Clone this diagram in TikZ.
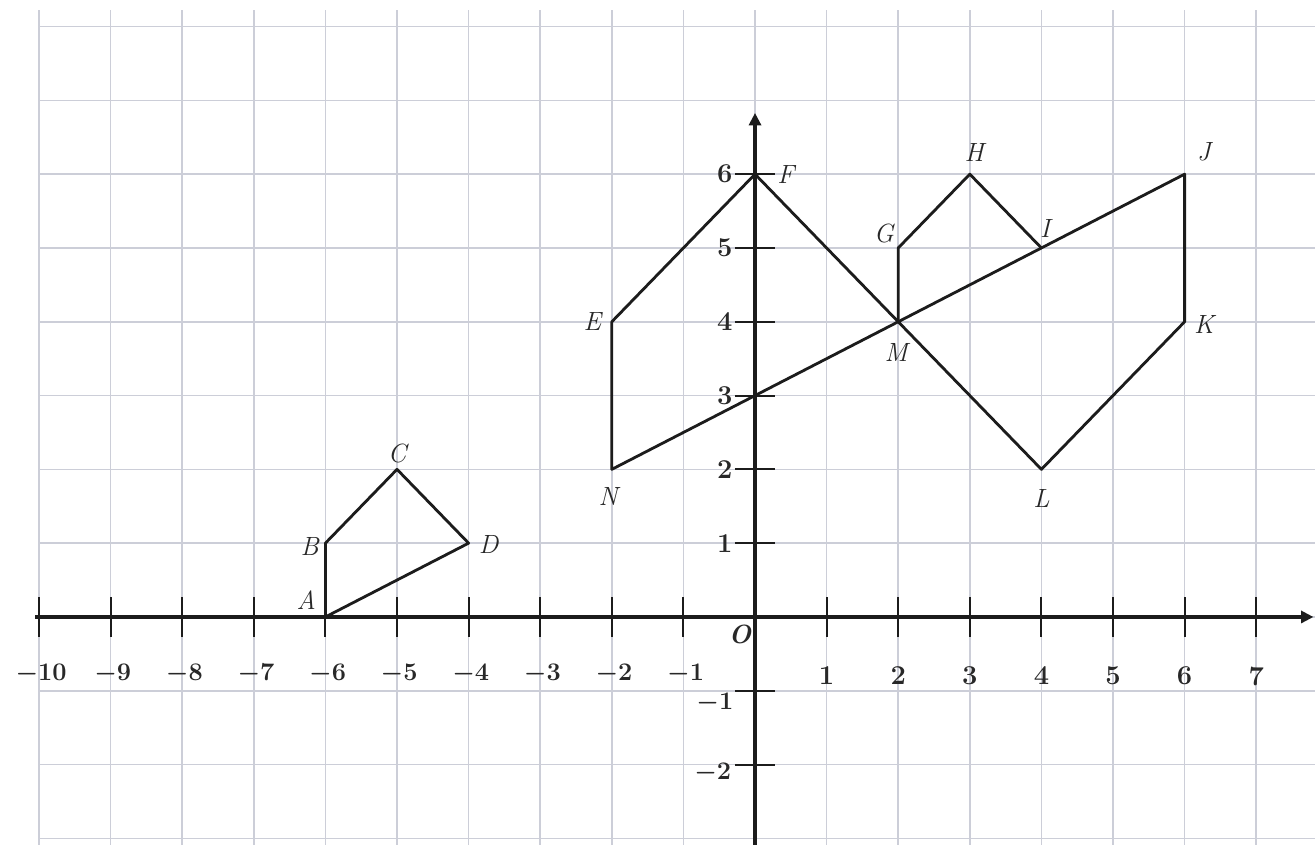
\documentclass[tikz,border=0pt]{standalone}
\usetikzlibrary{arrows.meta}
\definecolor{gridc}{RGB}{204,206,216}
\definecolor{inkc}{RGB}{28,28,28}
\definecolor{labc}{RGB}{40,40,40}
\begin{document}
\begin{tikzpicture}[x=1.432cm,y=1.476cm,
  gridline/.style={draw=gridc,line width=0.9pt},
  axisline/.style={draw=inkc,line width=1.8pt,-{Triangle[length=0.25cm,width=0.24cm]}},
  tickline/.style={draw=inkc,line width=1.2pt},
  poly/.style={draw=inkc,line width=1.6pt,line join=round},
  ptlab/.style={text=labc,inner sep=0pt,font=\fontsize{15}{17}\selectfont\itshape},
  numlab/.style={text=labc,inner sep=0pt,font=\fontsize{15.5}{17}\selectfont\bfseries\boldmath}]
\useasboundingbox[fill=white] (-10.545,-3.089) rectangle (7.821,8.360);
% grid
\foreach \i in {-10,...,7} \draw[gridline] (\i,-3.1) -- (\i,8.22);
\foreach \j in {-3,...,8} \draw[gridline] (-10,\j) -- (7.83,\j);
% axes
\coordinate (xs) at (-10.05,0);
\coordinate (xe) at (7.80,0);
\coordinate (ys) at (0,-3.1);
\coordinate (ye) at (0,6.83);
\draw[axisline] (xs) -- (xe);
\draw[axisline] (ys) -- (ye);
% ticks
\foreach \i in {-10,...,-1,1,2,...,7} \draw[tickline] (\i,-0.27) -- (\i,0.27);
\foreach \j in {-2,-1,1,2,...,6} \draw[tickline] (-0.28,\j) -- (0.28,\j);
% tick labels
\foreach \i in {-10,...,-1} \node[numlab] (xl\i) at (\i+0.03,-0.77) {$-\mathbf{\the\numexpr-\i\relax}$};
\foreach \i in {1,...,7} \node[numlab] (xp\i) at (\i,-0.80) {\i};
\foreach \j in {1,...,6} \node[numlab,anchor=east] (yl\j) at (-0.31,\j) {\j};
\node[numlab] (ym1) at (-0.56,-1.16) {$-1$};
\node[numlab] (ym2) at (-0.59,-2.11) {$-2$};
\node[ptlab,font=\fontsize{15}{17}\selectfont\bfseries\itshape] (O) at (-0.21,-0.24) {O};
% points
\coordinate (A) at (-6,0);
\coordinate (B) at (-6,1);
\coordinate (C) at (-5,2);
\coordinate (D) at (-4,1);
\coordinate (E) at (-2,4);
\coordinate (F) at (0,6);
\coordinate (G) at (2,5);
\coordinate (H) at (3,6);
\coordinate (I) at (4,5);
\coordinate (J) at (6,6);
\coordinate (K) at (6,4);
\coordinate (L) at (4,2);
\coordinate (M) at (2,4);
\coordinate (N) at (-2,2);
% polygons
\draw[poly] (A) -- (B) -- (C) -- (D) -- cycle;
\draw[poly] (N) -- (E) -- (F) -- (M) -- (L) -- (K) -- (J) -- (I) -- (M) -- cycle;
\draw[poly] (M) -- (G) -- (H) -- (I);
% point labels
\node[ptlab] (lA) at (-6.27,0.23) {A};
\node[ptlab] (lB) at (-6.22,0.95) {B};
\node[ptlab] (lC) at (-5.0,2.22) {C};
\node[ptlab] (lD) at (-3.72,0.98) {D};
\node[ptlab] (lE) at (-2.27,4.0) {E};
\node[ptlab] (lF) at (0.43,6.0) {F};
\node[ptlab] (lG) at (1.80,5.2) {G};
\node[ptlab] (lH) at (3.06,6.29) {H};
\node[ptlab] (lI) at (4.05,5.27) {I};
\node[ptlab] (lJ) at (6.27,6.30) {J};
\node[ptlab] (lK) at (6.27,3.96) {K};
\node[ptlab] (lL) at (4.0,1.61) {L};
\node[ptlab] (lM) at (1.97,3.59) {M};
\node[ptlab] (lN) at (-2.05,1.63) {N};
\end{tikzpicture}
\end{document}
